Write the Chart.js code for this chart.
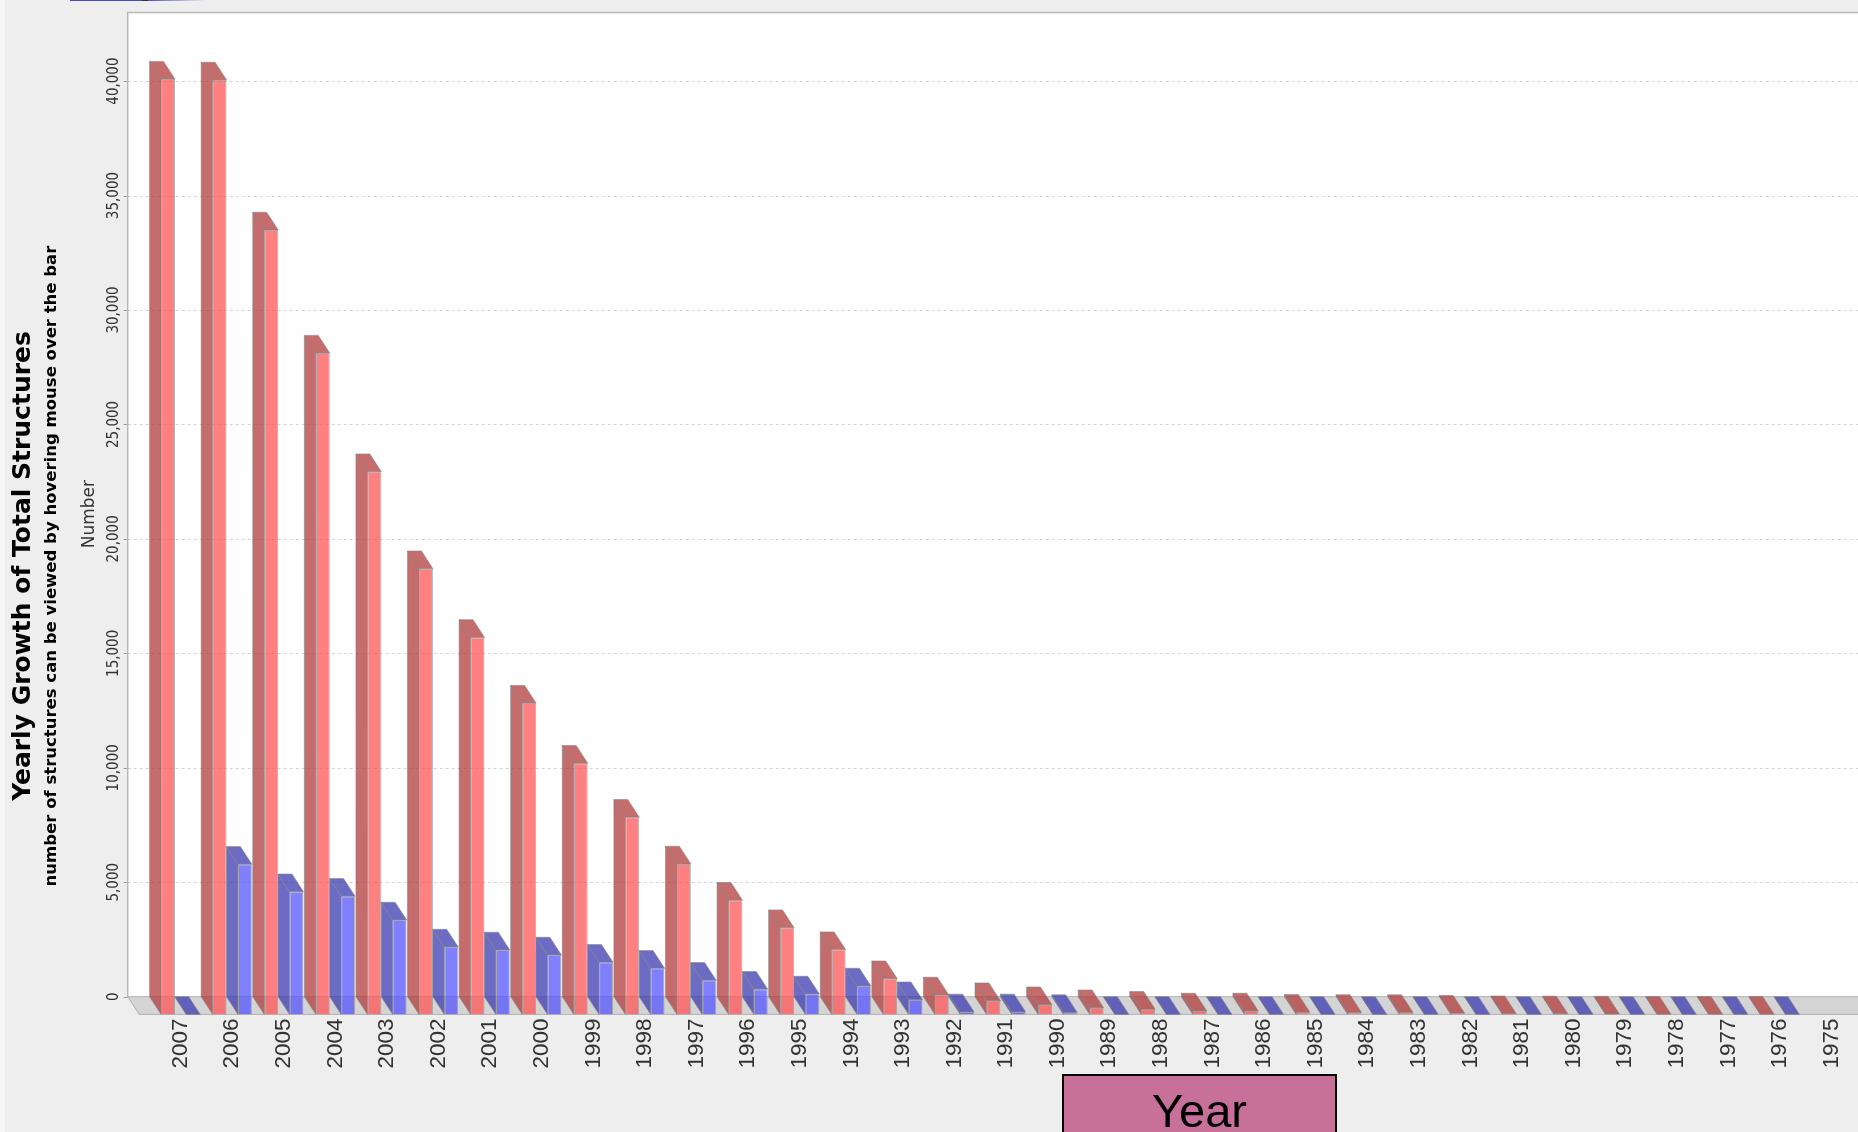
<!DOCTYPE html>
<html>
<head>
<meta charset="utf-8">
<title>Yearly Growth of Total Structures</title>
<script src="https://cdn.jsdelivr.net/npm/chart.js@4.4.1/dist/chart.umd.min.js"></script>
<style>
  html, body { margin: 0; padding: 0; background: #EEEEEE; overflow: hidden; }
  canvas { display: block; }
</style>
</head>
<body>
<canvas id="chart" width="1858" height="1132"></canvas>
<script>
// Release years, newest first
const years = [
  '2007', '2006', '2005', '2004', '2003', '2002', '2001', '2000', '1999', '1998', '1997',
  '1996', '1995', '1994', '1993', '1992', '1991', '1990', '1989', '1988', '1987', '1986',
  '1985', '1984', '1983', '1982', '1981', '1980', '1979', '1978', '1977', '1976', '1975'
];

// Total number of structures available at the end of each year
const totalStructures = [
  40860, 40820, 34270, 28890, 23710, 19470, 16470, 13600, 10970, 8610, 6570,
  4985, 3790, 2830, 1560, 848, 600, 424, 293, 223, 149, 150,
  92, 85, 80, 50, 30, 25, 15, 10, 8, 5, null
];

// Structures added during each year
const newStructures = [
  0, 6557, 5360, 5160, 4124, 2944, 2813, 2595, 2276, 2014, 1490,
  1097, 891, 1241, 642, 110, 110, 80, 0, 0, 0, 0,
  0, 0, 0, 0, 0, 0, 0, 0, 0, 0, null
];

// Value axis
const yMax = 43000;
const yTickValues = [0, 5000, 10000, 15000, 20000, 25000, 30000, 35000, 40000];

// 3D depth of the bars and walls
const DEPTH_X = 11.5;
const DEPTH_Y = 17.7;
const WALL_GAP = 27.2;

const faceColors = [
  { front: 'rgba(255,85,85,0.75)', side: 'rgba(178,59,59,0.75)' },
  { front: 'rgba(85,85,255,0.75)', side: 'rgba(59,59,178,0.75)' }
];
const edgeColor = 'rgba(135,135,135,0.6)';

function fillPoly(ctx, pts, fill, stroke) {
  ctx.beginPath();
  ctx.moveTo(pts[0][0], pts[0][1]);
  for (let i = 1; i < pts.length; i++) ctx.lineTo(pts[i][0], pts[i][1]);
  ctx.closePath();
  ctx.fillStyle = fill;
  ctx.fill();
  ctx.strokeStyle = stroke;
  ctx.lineWidth = 1;
  ctx.stroke();
}

const plot3d = {
  id: 'plot3d',
  beforeDraw(chart) {
    const { ctx, width, height } = chart;
    ctx.save();
    ctx.fillStyle = '#EEEEEE';
    ctx.fillRect(0, 0, width, height);
    ctx.fillStyle = '#F7F7F7';
    ctx.fillRect(0, 0, 5, height);
    // thin strip along the top edge
    const g = ctx.createLinearGradient(148, 0, 205, 0);
    g.addColorStop(0, '#5050C8');
    g.addColorStop(1, '#EEEEEE');
    ctx.fillStyle = '#4848C4';
    ctx.fillRect(70, 0, 72, 1);
    ctx.fillStyle = '#333333';
    ctx.fillRect(142, 0, 6, 1);
    ctx.fillStyle = g;
    ctx.fillRect(148, 0, 57, 1);
    ctx.restore();
  },
  beforeDatasetsDraw(chart) {
    const { ctx, chartArea: a, scales: { y } } = chart;
    const right = chart.width + 2;
    const wallL = a.left - WALL_GAP;
    const wallT = a.top - DEPTH_Y;
    const wallB = a.bottom - DEPTH_Y;
    ctx.save();
    // back wall
    ctx.fillStyle = '#FFFFFF';
    ctx.fillRect(wallL, wallT, right - wallL, wallB - wallT);
    // floor
    ctx.beginPath();
    ctx.moveTo(wallL, wallB);
    ctx.lineTo(right, wallB);
    ctx.lineTo(right, a.bottom);
    ctx.lineTo(wallL + DEPTH_X, a.bottom);
    ctx.closePath();
    ctx.fillStyle = '#D4D4D4';
    ctx.fill();
    ctx.strokeStyle = '#B2B2B2';
    ctx.lineWidth = 1;
    ctx.stroke();
    // dashed gridlines on the back wall
    ctx.setLineDash([3, 3]);
    ctx.strokeStyle = '#D2D2D2';
    y.ticks.forEach(t => {
      if (t.value === 0) return;
      const py = Math.round(y.getPixelForValue(t.value) - DEPTH_Y) + 0.5;
      ctx.beginPath();
      ctx.moveTo(wallL, py);
      ctx.lineTo(right, py);
      ctx.stroke();
    });
    ctx.setLineDash([]);
    // tick marks
    ctx.strokeStyle = '#9A9A9A';
    y.ticks.forEach(t => {
      const py = Math.round(y.getPixelForValue(t.value) - DEPTH_Y) + 0.5;
      ctx.beginPath();
      ctx.moveTo(wallL - 4, py);
      ctx.lineTo(wallL, py);
      ctx.stroke();
    });
    // wall outline
    ctx.strokeStyle = '#B8B8B8';
    ctx.lineWidth = 1.5;
    ctx.beginPath();
    ctx.moveTo(wallL, wallB);
    ctx.lineTo(wallL, wallT);
    ctx.lineTo(right, wallT);
    ctx.stroke();
    ctx.restore();
  },
  afterDatasetsDraw(chart) {
    const { ctx } = chart;
    ctx.save();
    chart.data.datasets.forEach((ds, i) => {
      const meta = chart.getDatasetMeta(i);
      const col = faceColors[i];
      meta.data.forEach((bar, j) => {
        if (ds.data[j] == null) return;
        const { x, y, base, width } = bar.getProps(['x', 'y', 'base', 'width'], true);
        const x0 = x - width / 2;
        const x1 = x + width / 2;
        const top = Math.min(y, base);
        // left side face
        fillPoly(ctx, [[x0, top], [x0 - DEPTH_X, top - DEPTH_Y], [x0 - DEPTH_X, base - DEPTH_Y], [x0, base]], col.side, edgeColor);
        // top face
        fillPoly(ctx, [[x0, top], [x0 - DEPTH_X, top - DEPTH_Y], [x1 - DEPTH_X, top - DEPTH_Y], [x1, top]], col.side, edgeColor);
      });
    });
    ctx.restore();
  },
  afterDraw(chart) {
    const { ctx } = chart;
    ctx.save();
    // "Year" label box under the category axis
    ctx.fillStyle = '#C6709A';
    ctx.fillRect(1063, 1075, 273, 70);
    ctx.strokeStyle = '#000000';
    ctx.lineWidth = 2;
    ctx.strokeRect(1063, 1075, 273, 70);
    ctx.fillStyle = '#000000';
    ctx.font = '47px "Liberation Sans", Arial, sans-serif';
    ctx.textAlign = 'center';
    ctx.textBaseline = 'alphabetic';
    ctx.fillText('Year', 1199.5, 1127);
    ctx.restore();
  }
};

new Chart(document.getElementById('chart'), {
  type: 'bar',
  data: {
    labels: years,
    datasets: [
      {
        label: 'Total structures',
        data: totalStructures,
        backgroundColor: faceColors[0].front,
        borderColor: edgeColor,
        borderWidth: 1,
        categoryPercentage: 0.98,
        barPercentage: 0.55
      },
      {
        label: 'New structures',
        data: newStructures,
        backgroundColor: faceColors[1].front,
        borderColor: edgeColor,
        borderWidth: 1,
        categoryPercentage: 0.98,
        barPercentage: 0.55
      }
    ]
  },
  options: {
    responsive: false,
    animation: false,
    devicePixelRatio: 1,
    locale: 'en-US',
    events: [],
    layout: { padding: { top: 30.1, right: 0, bottom: 30.1, left: 0 } },
    plugins: {
      legend: { display: false },
      tooltip: { enabled: false },
      title: {
        display: true,
        position: 'left',
        text: 'Yearly Growth of Total Structures',
        color: '#000000',
        font: { family: '"DejaVu Sans", sans-serif', size: 25, weight: 'bold', lineHeight: 1.2 },
        padding: { top: 8.5, bottom: 0 }
      },
      subtitle: {
        display: true,
        position: 'left',
        text: 'number of structures can be viewed by hovering mouse over the bar',
        color: '#000000',
        font: { family: '"DejaVu Sans", sans-serif', size: 16.5, weight: 'bold', lineHeight: 1.2 },
        padding: { top: 3.1, bottom: 0 }
      }
    },
    scales: {
      x: {
        type: 'category',
        offset: true,
        grid: { display: false, drawTicks: false },
        border: { display: false },
        ticks: {
          autoSkip: false,
          minRotation: 90,
          maxRotation: 90,
          padding: 4,
          color: '#333333',
          font: { family: '"Liberation Sans", Arial, sans-serif', size: 22.5, lineHeight: 1 }
        },
        afterFit(scale) { scale.height = 87.5; }
      },
      y: {
        min: 0,
        max: yMax,
        grid: { display: false, drawTicks: false },
        border: { display: false },
        afterBuildTicks(scale) {
          scale.ticks = yTickValues.map(v => ({ value: v }));
        },
        ticks: {
          minRotation: 90,
          maxRotation: 90,
          crossAlign: 'center',
          padding: 17.6,
          labelOffset: -DEPTH_Y,
          color: '#333333',
          font: { family: '"DejaVu Sans Condensed", "DejaVu Sans", sans-serif', size: 15 }
        },
        title: {
          display: true,
          text: '   Number',
          color: '#333333',
          font: { family: '"DejaVu Sans", sans-serif', size: 17, lineHeight: 1.2 },
          padding: { top: 17.9, bottom: 0 }
        },
        afterFit(scale) { scale.width = 93.5; }
      }
    }
  },
  plugins: [plot3d]
});
</script>
</body>
</html>
